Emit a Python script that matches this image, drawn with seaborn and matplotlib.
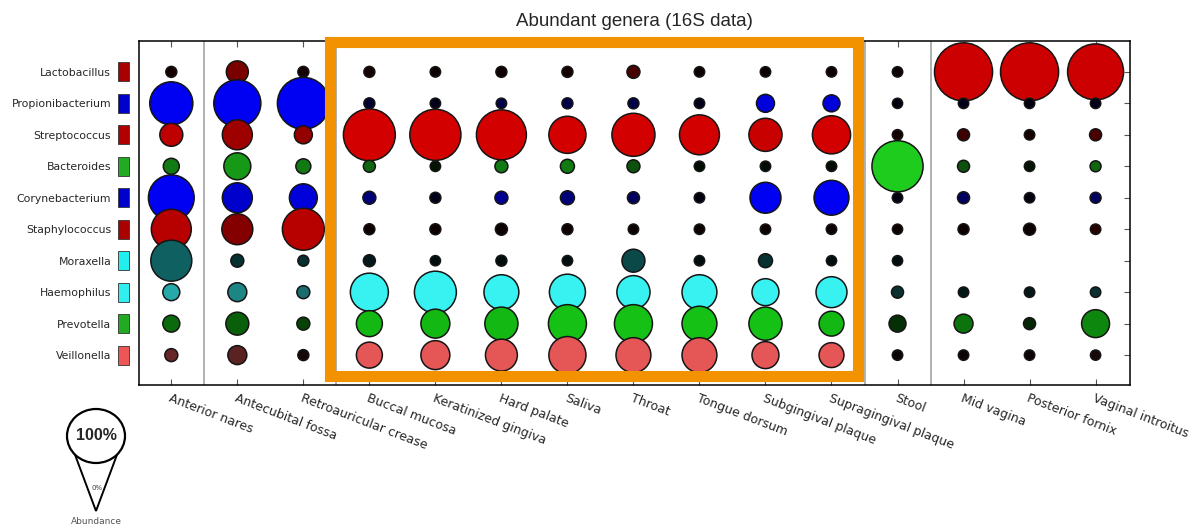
import matplotlib
matplotlib.use("Agg")
import matplotlib.pyplot as plt
from matplotlib.patches import Rectangle, Ellipse, Polygon
import seaborn as sns
import numpy as np
import pandas as pd

sites = ["Anterior nares", "Antecubital fossa", "Retroauricular crease",
         "Buccal mucosa", "Keratinized gingiva", "Hard palate", "Saliva",
         "Throat", "Tongue dorsum", "Subgingival plaque",
         "Supragingival plaque", "Stool", "Mid vagina", "Posterior fornix",
         "Vaginal introitus"]

genera = ["Lactobacillus", "Propionibacterium", "Streptococcus", "Bacteroides",
          "Corynebacterium", "Staphylococcus", "Moraxella", "Haemophilus",
          "Prevotella", "Veillonella"]

# abundance (%) per genus across sites, nan = not detected
abundance = {
    "Lactobacillus":     [0.5, 9.6, 0.5, 0.5, 0.2, 0.5, 0.5, 1.7, 0.2, 0.2, 0.2, 0.2, 82, 82, 76],
    "Propionibacterium": [44, 53, 65, 0.5, 0.2, 0.2, 0.5, 0.5, 0.2, 5.6, 4.7, 0.1, 0.2, 0.2, 0.2],
    "Streptococcus":     [10.7, 20, 5.6, 65, 63, 60, 32, 44, 37.5, 25, 34, 0.2, 1.1, 0.2, 1.1],
    "Bacteroides":       [3.9, 15.7, 3.1, 1.1, 0.2, 1.7, 2.4, 1.7, 0.2, 0.2, 0.2, 63, 1.1, 0.2, 0.5],
    "Corynebacterium":   [50, 20, 17, 1.7, 0.5, 1.7, 2.4, 1.1, 0.2, 21.5, 28, 0.2, 1.1, 0.2, 0.5],
    "Staphylococcus":    [37.5, 21.5, 41.6, 0.5, 0.5, 1.1, 0.5, 0.2, 0.2, 0.2, 0.2, 0.1, 0.5, 1.1, 0.2],
    "Moraxella":         [39.6, 1.7, 0.5, 1.1, 0.1, 0.5, 0.2, 10.7, 0.2, 2.4, 0.1, 0.1, np.nan, np.nan, np.nan],
    "Haemophilus":       [4.7, 6.5, 1.7, 33.7, 41.6, 28, 30, 25, 28, 15.7, 21.5, 1.1, 0.2, 0.2, 0.2],
    "Prevotella":        [4.7, 10.7, 1.7, 14.4, 18.5, 25, 33.7, 33.7, 28, 25, 13, 4.7, 6.5, 1.1, 17],
    "Veillonella":       [1.7, 6.5, 0.5, 14.4, 18.5, 23, 32, 28, 28, 15.7, 13, 0.2, 0.2, 0.2, 0.1],
}

# colour strength of each bubble (0 = black, 1 = full genus colour)
shade = {
    "Lactobacillus":     [0.1, 0.6, 0.1, 0.1, 0.05, 0.05, 0.1, 0.35, 0.05, 0.05, 0.05, 0.05, 1, 1, 1],
    "Propionibacterium": [1, 1, 1, 0.2, 0.1, 0.3, 0.3, 0.3, 0.1, 0.9, 0.9, 0.05, 0.1, 0.05, 0.1],
    "Streptococcus":     [0.9, 0.75, 0.7, 1, 1, 1, 1, 1, 1, 0.95, 1, 0.1, 0.3, 0.1, 0.35],
    "Bacteroides":       [0.6, 0.75, 0.6, 0.5, 0.1, 0.6, 0.6, 0.4, 0.05, 0.05, 0.05, 1, 0.4, 0.1, 0.5],
    "Corynebacterium":   [1, 0.85, 0.9, 0.5, 0.1, 0.6, 0.5, 0.4, 0.05, 1, 1, 0.05, 0.4, 0.05, 0.4],
    "Staphylococcus":    [0.9, 0.65, 0.9, 0.05, 0.05, 0.05, 0.05, 0.05, 0.05, 0.05, 0.05, 0.05, 0.05, 0.05, 0.2],
    "Moraxella":         [0.4, 0.2, 0.2, 0.1, 0.05, 0.05, 0.05, 0.3, 0.05, 0.2, 0.05, 0.05, 0, 0, 0],
    "Haemophilus":       [0.7, 0.55, 0.45, 1, 1, 1, 1, 1, 1, 1, 1, 0.2, 0.1, 0.1, 0.2],
    "Prevotella":        [0.55, 0.5, 0.35, 0.95, 0.95, 0.95, 1, 1, 1, 1, 0.95, 0.25, 0.6, 0.2, 0.7],
    "Veillonella":       [0.45, 0.4, 0.1, 1, 1, 1, 1, 1, 1, 1, 1, 0.05, 0.05, 0.05, 0.1],
}

genus_colors = {
    "Lactobacillus": (0.80, 0.0, 0.0),
    "Propionibacterium": (0.0, 0.0, 0.95),
    "Streptococcus": (0.83, 0.0, 0.0),
    "Bacteroides": (0.12, 0.80, 0.12),
    "Corynebacterium": (0.0, 0.0, 0.95),
    "Staphylococcus": (0.80, 0.0, 0.0),
    "Moraxella": (0.15, 0.95, 0.95),
    "Haemophilus": (0.22, 0.95, 0.95),
    "Prevotella": (0.08, 0.76, 0.08),
    "Veillonella": (0.90, 0.34, 0.34),
}

box_colors = ["#a80000", "#0000cc", "#b00000", "#22aa22", "#0000cc",
              "#aa0000", "#22eeee", "#33eeee", "#22aa22", "#ee5555"]

rows = []
for gi, g in enumerate(genera):
    for si, s in enumerate(sites):
        v = abundance[g][si]
        if np.isnan(v):
            continue
        k = max(shade[g][si], 0.06)
        r, gg, b = genus_colors[g]
        col = "#%02x%02x%02x" % (int(r * k * 255), int(gg * k * 255), int(b * k * 255))
        rows.append({"site": si, "genus": gi, "abundance": v, "color": col})
df = pd.DataFrame(rows)

sns.set_style("white")
plt.rcParams["font.family"] = ["DejaVu Sans"]

fig = plt.figure(figsize=(12.01, 5.28), dpi=100)
ax = fig.add_axes([0.1157, 0.2708, 0.8251, 0.6515])

for xv in [0.5, 2.5, 10.5, 11.5]:
    ax.axvline(xv, color="#aaaaaa", lw=1.3, zorder=0)

palette = {c: c for c in df["color"].unique()}
sns.scatterplot(data=df, x="site", y="genus", size="abundance", hue="color",
                palette=palette, sizes=(52, 2120), size_norm=(0, 100),
                edgecolor="#151515", linewidth=1.1, legend=False, ax=ax, zorder=3)

ax.set_xlim(-0.49, 14.52)
ax.set_ylim(9.95, -0.98)
ax.set_xticks(range(len(sites)))
ax.set_xticklabels(sites, rotation=-21, ha="left", va="top",
                   rotation_mode="anchor", fontsize=9)
ax.set_yticks(range(len(genera)))
ax.set_yticklabels(genera, fontsize=7.8)
ax.set_xlabel("")
ax.set_ylabel("")
ax.tick_params(axis="x", direction="in", length=4, top=True, bottom=True, pad=5, color="#555555")
ax.tick_params(axis="y", direction="in", length=4, left=False, right=True, pad=20, color="#555555")
for sp in ax.spines.values():
    sp.set_color("black")
    sp.set_linewidth(1.1)
ax.set_title("Abundant genera (16S data)", fontsize=13.5, family=["Liberation Sans"], pad=11)

# coloured genus squares beside the labels
for gi, c in enumerate(box_colors):
    ax.add_patch(Rectangle((-0.0215, gi - 0.3), 0.0115, 0.6, facecolor=c,
                           edgecolor="#333333", lw=0.6,
                           transform=ax.get_yaxis_transform(), clip_on=False))

# orange highlight box
W, H = 1201, 528
fig.add_artist(Rectangle((330 / W, 1 - 376 / H), (858 - 330) / W, (376 - 41.5) / H,
                         facecolor="none", edgecolor="#f39200", lw=8,
                         transform=fig.transFigure, zorder=10))

# abundance key
fig.add_artist(Polygon([(74 / W, 1 - 452 / H), (96 / W, 1 - 511 / H), (118 / W, 1 - 452 / H)],
                       closed=False, fill=False, edgecolor="black", lw=1.4,
                       transform=fig.transFigure))
fig.add_artist(Ellipse((96 / W, 1 - 436 / H), 58 / W, 54 / H, facecolor="white",
                       edgecolor="black", lw=1.6, transform=fig.transFigure))
fig.text(96 / W, 1 - 436 / H, "100%", ha="center", va="center", fontsize=11.5,
         fontweight="bold", family=["Liberation Sans"])
fig.text(97 / W, 1 - 488 / H, "0%", ha="center", va="center", fontsize=5,
         color="#444444")
fig.text(96 / W, 1 - 521 / H, "Abundance", ha="center", va="center", fontsize=6.5,
         color="#555555")

fig.savefig("out.png", dpi=100)
